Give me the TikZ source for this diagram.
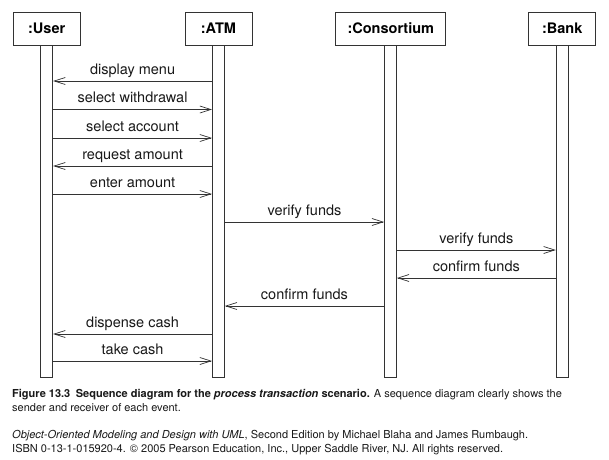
\documentclass[tikz,border=0pt]{standalone}
\usepackage{fontspec}
\setmainfont{TeX Gyre Heros}
\usetikzlibrary{arrows.meta}
\tikzset{
  objbox/.style={draw=black!80, line width=0.8pt, fill=white, minimum height=33pt, inner sep=0pt, font=\fontsize{14.5}{16}\selectfont\bfseries},
  lifebar/.style={draw=black!80, line width=0.8pt, fill=white, minimum width=12pt, minimum height=332pt, inner sep=0pt, anchor=north},
  msgarrow/.style={draw=black!80, line width=0.7pt, -{Straight Barb[length=11pt,width=7pt,line width=0.7pt]}},
  msglabel/.style={anchor=base, yshift=7pt, inner sep=0pt, font=\fontsize{14.5}{16}\selectfont, text=black!90},
  captxt/.style={anchor=base west, inner sep=0pt, font=\fontsize{11}{13}\selectfont, text=black!90}
}
\begin{document}
\begin{tikzpicture}[x=1pt,y=-1pt]
\useasboundingbox (0,0) rectangle (609,459);
\fill[white] (0,0) rectangle (609,459);
% lifeline bars
\node[lifebar] (ubar) at (46.7,45) {};
\node[lifebar] (abar) at (218.4,45) {};
\node[lifebar] (cbar) at (390.5,45) {};
\node[lifebar] (bbar) at (562.2,45) {};
% object boxes
\node[objbox, minimum width=67pt] (user) at (46.7,28.5) {:User};
\node[objbox, minimum width=67pt] (atm) at (218.4,28.5) {:ATM};
\node[objbox, minimum width=110pt] (cons) at (390.8,28.5) {:Consortium};
\node[objbox, minimum width=67pt] (bank) at (562.2,28.5) {:Bank};
% messages
\draw[msgarrow] (abar.west |- 0,81) -- node[msglabel]{display menu} (ubar.east |- 0,81);
\draw[msgarrow] (ubar.east |- 0,109.5) -- node[msglabel]{select withdrawal} (abar.west |- 0,109.5);
\draw[msgarrow] (ubar.east |- 0,138) -- node[msglabel]{select account} (abar.west |- 0,138);
\draw[msgarrow] (abar.west |- 0,166) -- node[msglabel]{request amount} (ubar.east |- 0,166);
\draw[msgarrow] (ubar.east |- 0,194) -- node[msglabel]{enter amount} (abar.west |- 0,194);
\draw[msgarrow] (abar.east |- 0,222) -- node[msglabel]{verify funds} (cbar.west |- 0,222);
\draw[msgarrow] (cbar.east |- 0,250) -- node[msglabel]{verify funds} (bbar.west |- 0,250);
\draw[msgarrow] (bbar.west |- 0,278) -- node[msglabel]{confirm funds} (cbar.east |- 0,278);
\draw[msgarrow] (cbar.west |- 0,306) -- node[msglabel]{confirm funds} (abar.east |- 0,306);
\draw[msgarrow] (abar.west |- 0,334) -- node[msglabel]{dispense cash} (ubar.east |- 0,334);
\draw[msgarrow] (ubar.east |- 0,361) -- node[msglabel]{take cash} (abar.west |- 0,361);
% caption
\node[captxt] (c1) at (12,397) {\textbf{Figure 13.3\enspace Sequence diagram for the \textit{process transaction} scenario.} A sequence diagram clearly shows the};
\node[captxt] (c2) at (12,411) {sender and receiver of each event.};
\node[captxt] (c3) at (12,438.5) {\textit{Object-Oriented Modeling and Design with UML}, Second Edition by Michael Blaha and James Rumbaugh.};
\node[captxt] (c4) at (12,452.5) {ISBN 0-13-1-015920-4. © 2005 Pearson Education, Inc., Upper Saddle River, NJ. All rights reserved.};
\end{tikzpicture}
\end{document}
